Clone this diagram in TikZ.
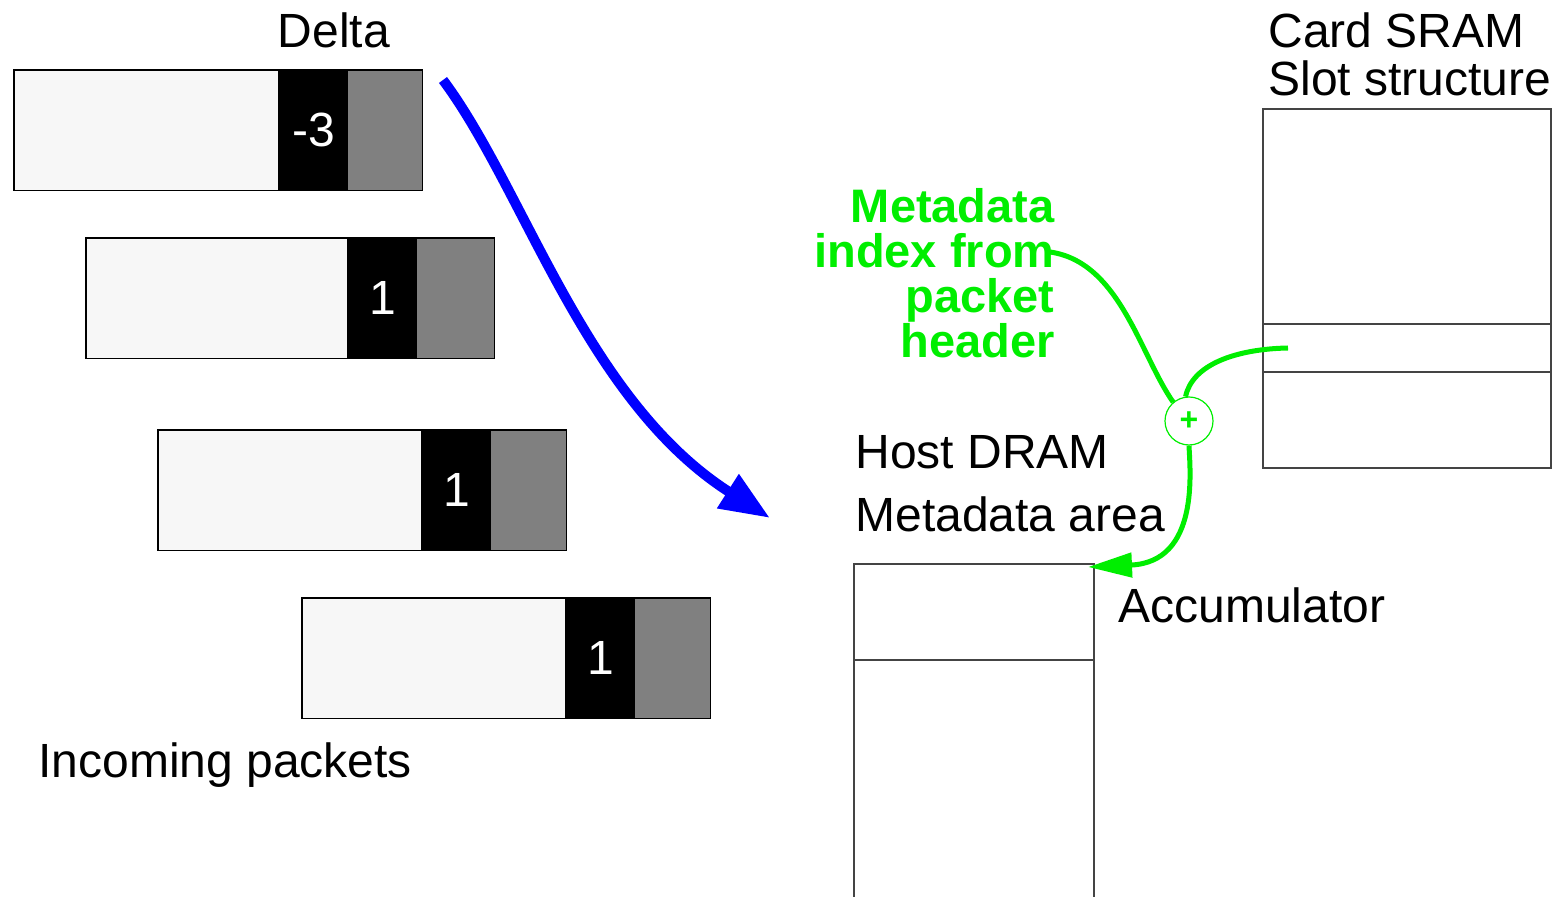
\documentclass[tikz,border=0pt]{standalone}
\usepackage{fontspec}
\setmainfont{Liberation Sans}
\usetikzlibrary{arrows.meta}
\definecolor{lightpkt}{HTML}{F7F7F7}
\definecolor{tailgray}{HTML}{808080}
\definecolor{boxline}{HTML}{444444}
\definecolor{meta}{HTML}{00EE00}
\definecolor{deltablue}{HTML}{0000FF}
\begin{document}
\begin{tikzpicture}[x=0.5pt,y=-0.5pt,
  lbl/.style={font=\fontsize{24}{28}\selectfont, inner sep=0pt},
  pktbody/.style={fill=lightpkt, minimum width=204pt, minimum height=60pt, inner sep=0pt, anchor=north west},
  deltacell/.style={fill=black, text=white, minimum width=35pt, minimum height=60pt, inner sep=0pt, anchor=north west, font=\fontsize{24}{28}\selectfont},
  tailfill/.style={fill=tailgray},
  border/.style={draw=black, line width=0.6pt},
  memline/.style={draw=boxline, line width=1pt},
  metaline/.style={draw=meta, line width=2.5pt},
]
\useasboundingbox (0,0) rectangle (1554,897);

% incoming packets: body, delta field, tail field
\foreach \n/\x/\y/\o/\d in {1/14/70/264/-3, 2/86/238/261/1, 3/158/430/263/1, 4/302/598/263/1}{
  \node[pktbody] (p\n) at (\x,\y) {};
  \node[deltacell] (d\n) at (\x+\o,\y) {\d};
  \path[tailfill] ([xshift=-0.4pt]d\n.north east) rectangle (p\n.south east);
  \draw[border] (p\n.north west) rectangle (p\n.south east);
}

\node[lbl] (deltalbl) at (334,30) {Delta};
\node[lbl, anchor=west] (inlbl) at (38,765) {Incoming packets};

% delta flow into host memory
\coordinate (bstart) at (443,80);
\coordinate (bend) at (770,518);
\draw[deltablue, line width=5pt, -{Triangle[length=25pt,width=19pt]}]
  (bstart) .. controls (525,190) and (585,400) .. (bend);

% host DRAM metadata area
\node[lbl, anchor=west] (hostlbl) at (855,452) {Host DRAM};
\node[lbl, anchor=west] (arealbl) at (855,514) {Metadata area};
\coordinate (hnw) at (854,564);
\coordinate (hne) at (1094,564);
\draw[memline] (854,900) -- (hnw) -- (hne) -- (1094,900);
\draw[memline] (854,660) -- (1094,660);
\node[lbl, anchor=west] (acclbl) at (1118,605) {Accumulator};

% card SRAM slot structure
\node[lbl, anchor=west] (cardlbl) at (1268,30) {Card SRAM};
\node[lbl, anchor=west] (slotlbl) at (1268,78) {Slot structure};
\node[draw=boxline, line width=1pt, minimum width=144pt, minimum height=179.5pt, inner sep=0pt, anchor=north west] (sram) at (1262,108) {};
\draw[memline] (1262,324) -- (1550,324);
\draw[memline] (1262,372) -- (1550,372);

% metadata index and adder
\node[text=meta, font=\bfseries\fontsize{23.5}{22.5}\selectfont, align=right, anchor=north east, inner sep=0pt] (metalbl) at (1055,188)
  {Metadata\\index from\\packet\\header};
\node[circle, draw=meta, line width=0.6pt, minimum size=24pt, inner sep=0pt, text=meta, font=\bfseries\fontsize{16}{16}\selectfont] (plus) at (1189,421) {+};

\coordinate (idx) at (1050,252);
\coordinate (slot) at (1288,348);
\coordinate (acc) at (1088,567);

\draw[metaline] (idx) .. controls (1120,262) and (1140,355) .. (plus.130);
\draw[metaline] (slot) .. controls (1235,349) and (1192,365) .. (plus.98);
\draw[metaline, -{Triangle[length=22pt,width=12pt]}]
  (plus.south) .. controls (1190,470) and (1200,562) .. (acc);
\end{tikzpicture}
\end{document}
